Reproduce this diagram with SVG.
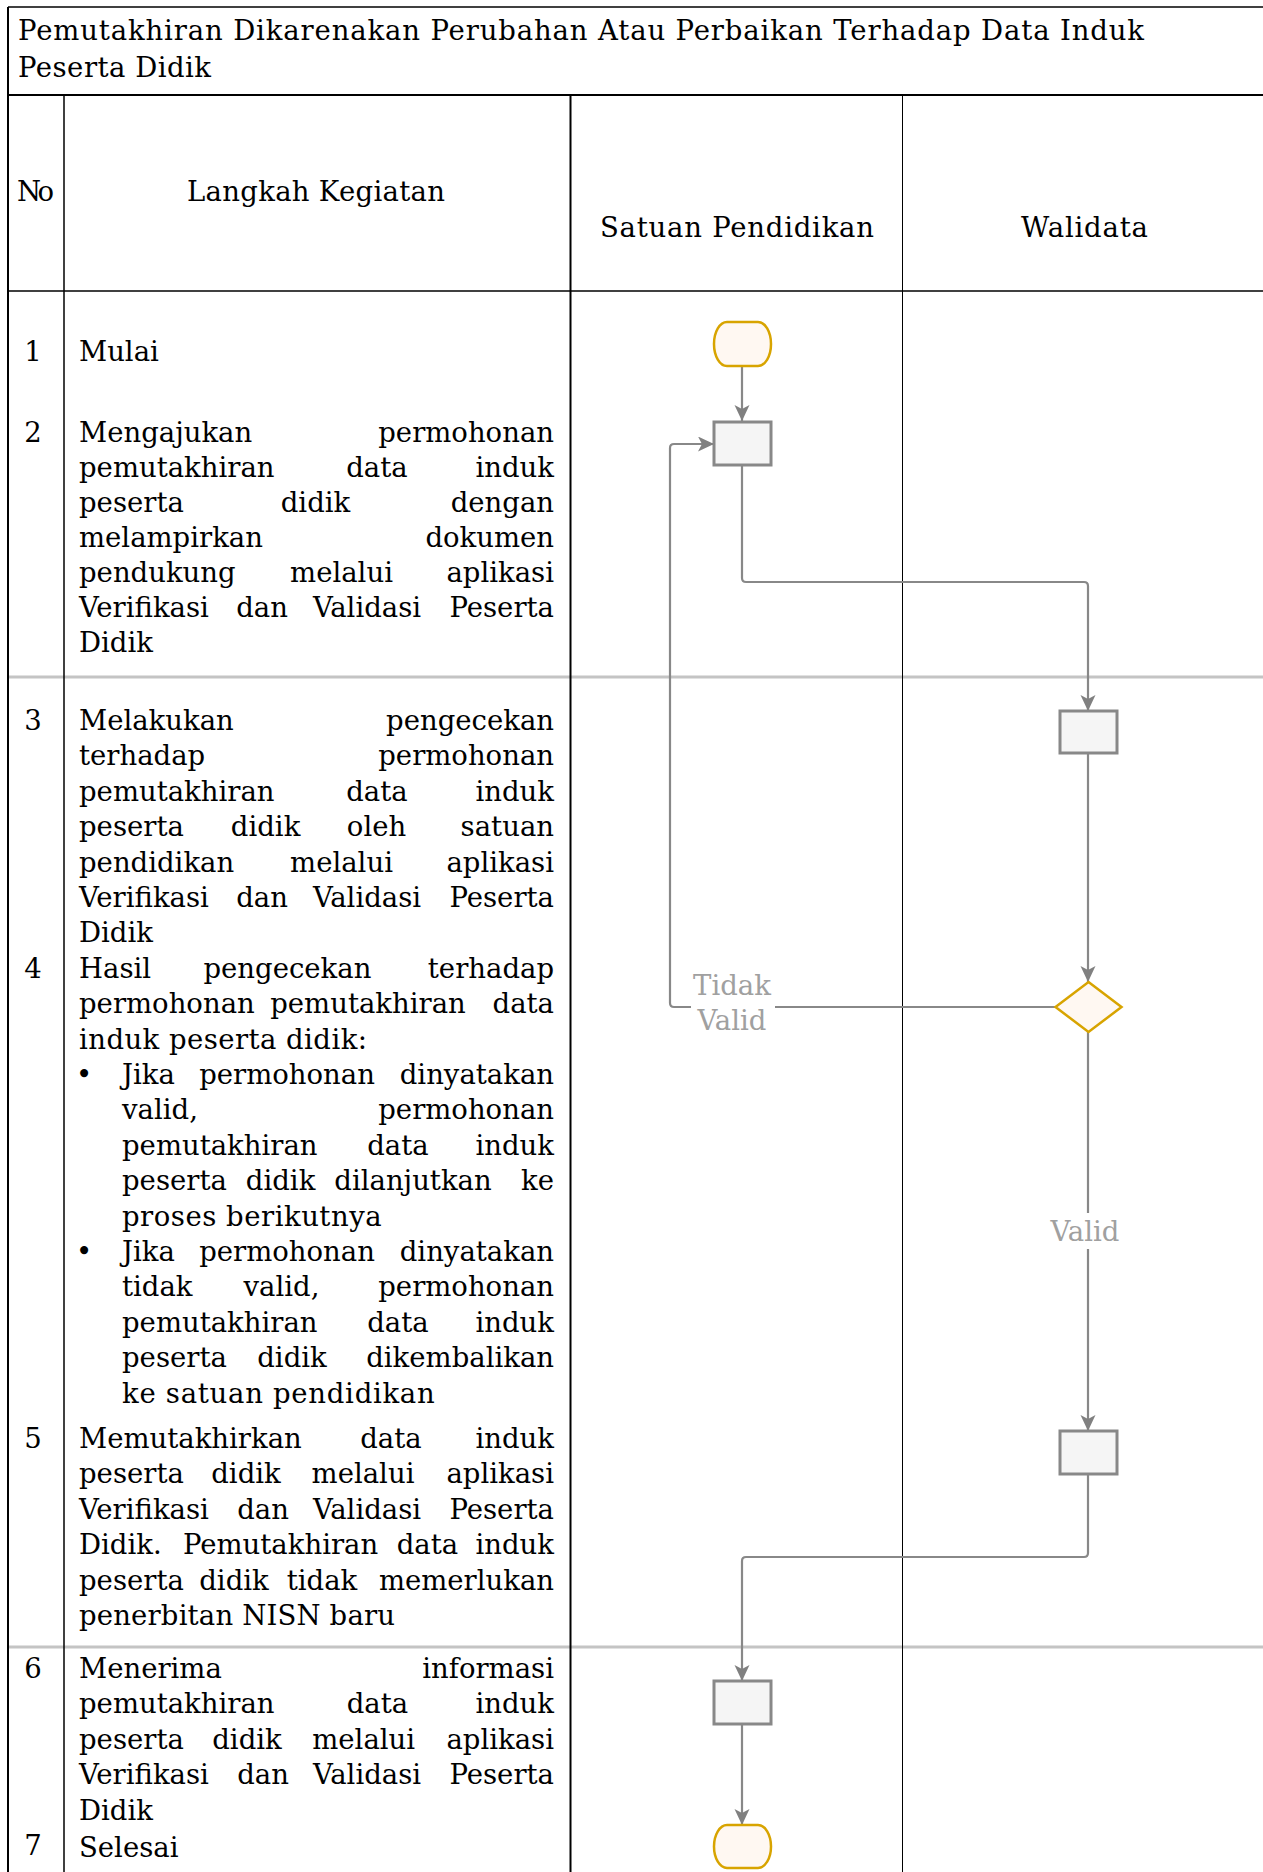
<svg xmlns="http://www.w3.org/2000/svg" width="1263" height="1872" viewBox="0 0 1263 1872">
<defs>
<style>
text{font-family:"DejaVu Serif","Liberation Serif",serif;font-size:27.5px;fill:#000}
.m{text-anchor:middle}
.e{text-anchor:end}
.lbl{fill:#a0a0a0}
.conn{fill:none;stroke:#888;stroke-width:2.2}
.box{fill:#f5f5f5;stroke:#888;stroke-width:3}
.term{fill:#fff8f2;stroke:#d8a400;stroke-width:2.5}
.grid{stroke:#000;fill:none}
</style>
<marker id="arr" markerUnits="userSpaceOnUse" markerWidth="17" markerHeight="16" refX="16" refY="7.5" orient="auto">
<path d="M0,0 L16,7.5 L0,15 L4,7.5 z" fill="#808080"/>
</marker>
</defs>
<rect width="1263" height="1872" fill="#fff"/>
<g id="table">
<line x1="8" y1="677" x2="1263" y2="677" stroke="#c4c4c4" stroke-width="3"/>
<line x1="8" y1="1647" x2="1263" y2="1647" stroke="#c4c4c4" stroke-width="3"/>
<line class="grid" x1="8" y1="7" x2="1263" y2="7" stroke-width="1.5"/>
<line class="grid" x1="8" y1="95" x2="1263" y2="95" stroke-width="2"/>
<line class="grid" x1="8" y1="291" x2="1263" y2="291" stroke-width="1.5"/>
<line class="grid" x1="8" y1="7" x2="8" y2="1872" stroke="#333" stroke-width="2"/>
<line class="grid" x1="64" y1="95" x2="64" y2="1872" stroke-width="1.5"/>
<line class="grid" x1="570.5" y1="95" x2="570.5" y2="1872" stroke="#333" stroke-width="2"/>
<line class="grid" x1="902.5" y1="95" x2="902.5" y2="1872" stroke-width="1"/>
<text x="18" y="40" textLength="1126">Pemutakhiran Dikarenakan Perubahan Atau Perbaikan Terhadap Data Induk</text>
<text x="18" y="77" textLength="193">Peserta Didik</text>
<text x="17" y="201" textLength="37">No</text>
<text x="187" y="201" textLength="258">Langkah Kegiatan</text>
<text x="600" y="237" textLength="274">Satuan Pendidikan</text>
<text x="1021" y="237" textLength="127">Walidata</text>
</g>
<g id="steps">
<text x="33" y="361" class="m">1</text>
<text x="79" y="361">Mulai</text>
<text x="33" y="442" class="m">2</text>
<text x="79" y="442">Mengajukan</text><text x="554" y="442" class="e">permohonan</text>
<text x="79" y="477">pemutakhiran</text><text x="377" y="477" class="m">data</text><text x="554" y="477" class="e">induk</text>
<text x="79" y="512">peserta</text><text x="315.5" y="512" class="m">didik</text><text x="554" y="512" class="e">dengan</text>
<text x="79" y="547">melampirkan</text><text x="554" y="547" class="e">dokumen</text>
<text x="79" y="582">pendukung</text><text x="341.5" y="582" class="m">melalui</text><text x="554" y="582" class="e">aplikasi</text>
<text x="79" y="617">Verifikasi</text><text x="262" y="617" class="m">dan</text><text x="367" y="617" class="m">Validasi</text><text x="554" y="617" class="e">Peserta</text>
<text x="79" y="652">Didik</text>

<text x="33" y="730" class="m">3</text>
<text x="79" y="730">Melakukan</text><text x="554" y="730" class="e">pengecekan</text>
<text x="79" y="765.4">terhadap</text><text x="554" y="765.4" class="e">permohonan</text>
<text x="79" y="800.8">pemutakhiran</text><text x="377" y="800.8" class="m">data</text><text x="554" y="800.8" class="e">induk</text>
<text x="79" y="836.2">peserta</text><text x="265.6" y="836.2" class="m">didik</text><text x="376.5" y="836.2" class="m">oleh</text><text x="554" y="836.2" class="e">satuan</text>
<text x="79" y="871.6">pendidikan</text><text x="341.5" y="871.6" class="m">melalui</text><text x="554" y="871.6" class="e">aplikasi</text>
<text x="79" y="907">Verifikasi</text><text x="262" y="907" class="m">dan</text><text x="367" y="907" class="m">Validasi</text><text x="554" y="907" class="e">Peserta</text>
<text x="79" y="942.4">Didik</text>

<text x="33" y="978" class="m">4</text>
<text x="79" y="977.8">Hasil</text><text x="287.4" y="977.8" class="m">pengecekan</text><text x="554" y="977.8" class="e">terhadap</text>
<text x="79" y="1013.2">permohonan</text><text x="368" y="1013.2" class="m">pemutakhiran</text><text x="554" y="1013.2" class="e">data</text>
<text x="79" y="1048.6" textLength="288">induk peserta didik:</text>
<text x="84" y="1084" class="m">•</text>
<text x="122" y="1084">Jika</text><text x="287" y="1084" class="m">permohonan</text><text x="554" y="1084" class="e">dinyatakan</text>
<text x="122" y="1119.4">valid,</text><text x="554" y="1119.4" class="e">permohonan</text>
<text x="122" y="1154.8">pemutakhiran</text><text x="398" y="1154.8" class="m">data</text><text x="554" y="1154.8" class="e">induk</text>
<text x="122" y="1190.2">peserta</text><text x="280.6" y="1190.2" class="m">didik</text><text x="413" y="1190.2" class="m">dilanjutkan</text><text x="554" y="1190.2" class="e">ke</text>
<text x="122" y="1225.6" textLength="259.6">proses berikutnya</text>
<text x="84" y="1261" class="m">•</text>
<text x="122" y="1261">Jika</text><text x="287" y="1261" class="m">permohonan</text><text x="554" y="1261" class="e">dinyatakan</text>
<text x="122" y="1296.4">tidak</text><text x="281.5" y="1296.4" class="m">valid,</text><text x="554" y="1296.4" class="e">permohonan</text>
<text x="122" y="1331.8">pemutakhiran</text><text x="398" y="1331.8" class="m">data</text><text x="554" y="1331.8" class="e">induk</text>
<text x="122" y="1367.2">peserta</text><text x="292" y="1367.2" class="m">didik</text><text x="554" y="1367.2" class="e">dikembalikan</text>
<text x="122" y="1402.6" textLength="312.7">ke satuan pendidikan</text>

<text x="33" y="1448" class="m">5</text>
<text x="79" y="1448">Memutakhirkan</text><text x="391" y="1448" class="m">data</text><text x="554" y="1448" class="e">induk</text>
<text x="79" y="1483.4">peserta</text><text x="246" y="1483.4" class="m">didik</text><text x="363" y="1483.4" class="m">melalui</text><text x="554" y="1483.4" class="e">aplikasi</text>
<text x="79" y="1518.8">Verifikasi</text><text x="263" y="1518.8" class="m">dan</text><text x="367" y="1518.8" class="m">Validasi</text><text x="554" y="1518.8" class="e">Peserta</text>
<text x="79" y="1554.2">Didik.</text><text x="280.6" y="1554.2" class="m">Pemutakhiran</text><text x="427.5" y="1554.2" class="m">data</text><text x="554" y="1554.2" class="e">induk</text>
<text x="79" y="1589.6">peserta</text><text x="234" y="1589.6" class="m">didik</text><text x="322" y="1589.6" class="m">tidak</text><text x="554" y="1589.6" class="e">memerlukan</text>
<text x="79" y="1625" textLength="316">penerbitan NISN baru</text>

<text x="33" y="1678" class="m">6</text>
<text x="79" y="1678">Menerima</text><text x="554" y="1678" class="e">informasi</text>
<text x="79" y="1713.4">pemutakhiran</text><text x="377.5" y="1713.4" class="m">data</text><text x="554" y="1713.4" class="e">induk</text>
<text x="79" y="1748.8">peserta</text><text x="247" y="1748.8" class="m">didik</text><text x="363.7" y="1748.8" class="m">melalui</text><text x="554" y="1748.8" class="e">aplikasi</text>
<text x="79" y="1784.2">Verifikasi</text><text x="263" y="1784.2" class="m">dan</text><text x="367" y="1784.2" class="m">Validasi</text><text x="554" y="1784.2" class="e">Peserta</text>
<text x="79" y="1819.6">Didik</text>
<text x="33" y="1855" class="m">7</text>
<text x="79" y="1857">Selesai</text>
</g>
<g id="connectors">
<path class="conn" d="M742 366 V421" marker-end="url(#arr)"/>
<path class="conn" d="M742 465 V578 Q742 582 746 582 H1084 Q1088 582 1088 586 V711" marker-end="url(#arr)"/>
<path class="conn" d="M1088 753 V982" marker-end="url(#arr)"/>
<path class="conn" d="M1055 1007 H674 Q670 1007 670 1003 V448 Q670 444 674 444 H714" marker-end="url(#arr)"/>
<path class="conn" d="M1088 1032 V1431" marker-end="url(#arr)"/>
<path class="conn" d="M1088 1474 V1553 Q1088 1557 1084 1557 H746 Q742 1557 742 1561 V1681" marker-end="url(#arr)"/>
<path class="conn" d="M742 1724 V1825" marker-end="url(#arr)"/>
<g id="label-tidak-valid">
<rect x="691" y="976" width="84" height="58" fill="#fff"/>
<text x="732" y="995" class="m lbl">Tidak</text>
<text x="732" y="1030" class="m lbl">Valid</text>
</g>
<g id="label-valid">
<rect x="1046" y="1213" width="78" height="36" fill="#fff"/>
<text x="1085" y="1241" class="m lbl">Valid</text>
</g>
</g>
<g id="start"><rect class="term" x="714" y="322" width="57" height="44" rx="13" ry="22"/></g>
<g id="step2"><rect class="box" x="714" y="422" width="57" height="43"/></g>
<g id="step3"><rect class="box" x="1060" y="711" width="57" height="42"/></g>
<g id="decision"><path class="term" d="M1088.5 982 L1121.5 1007 L1088.5 1032 L1055.5 1007 Z"/></g>
<g id="step5"><rect class="box" x="1060" y="1431" width="57" height="43"/></g>
<g id="step6"><rect class="box" x="714" y="1681" width="57" height="43"/></g>
<g id="end"><rect class="term" x="714" y="1825" width="57" height="43" rx="13" ry="21.5"/></g>
</svg>
